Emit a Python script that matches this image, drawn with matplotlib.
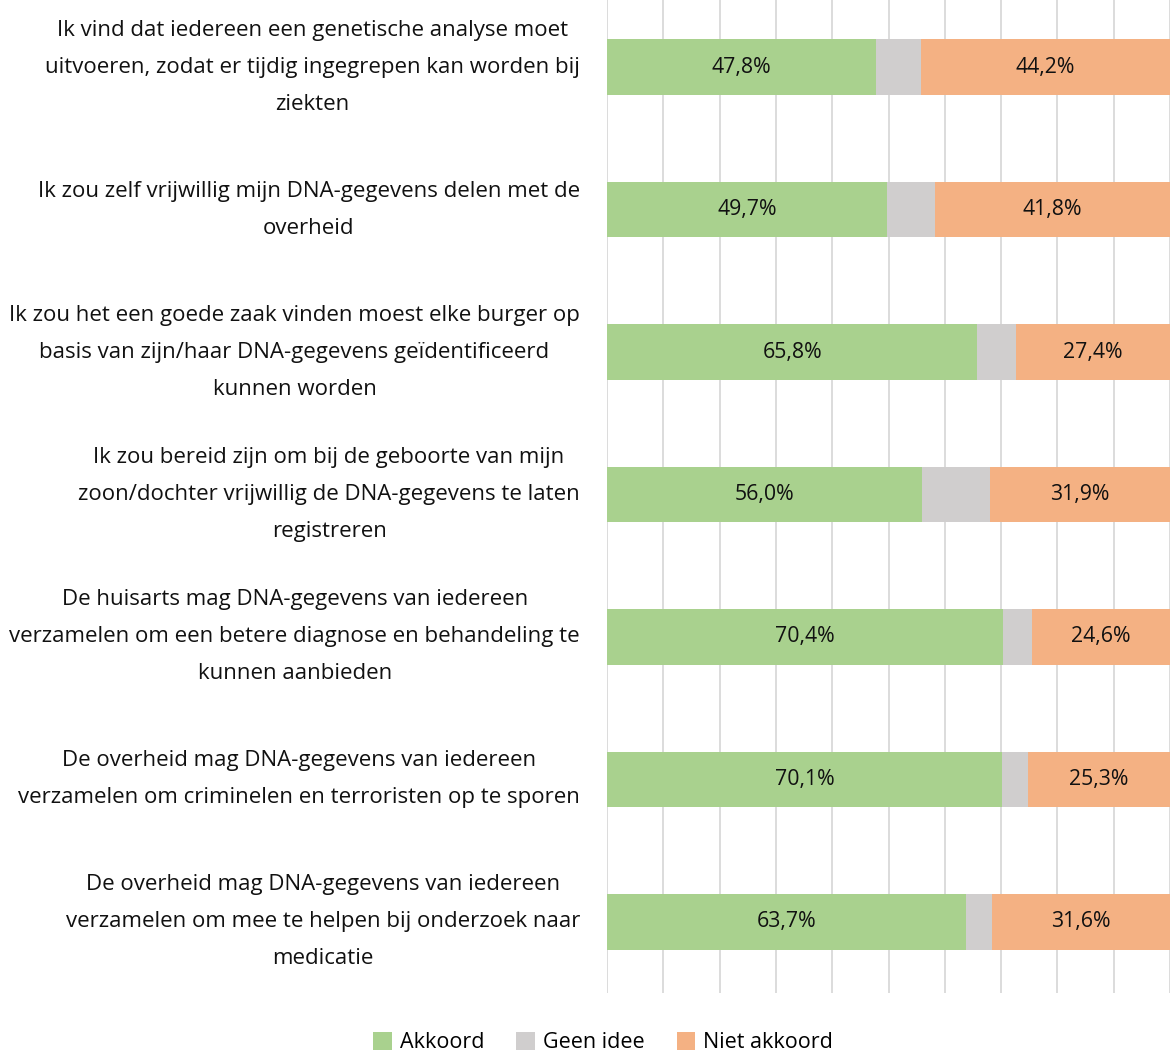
import matplotlib
matplotlib.use("Agg")
import matplotlib.pyplot as plt
import numpy as np

categories = [
    "Ik vind dat iedereen een genetische analyse moet\nuitvoeren, zodat er tijdig ingegrepen kan worden bij\nziekten",
    "Ik zou zelf vrijwillig mijn DNA-gegevens delen met de\noverheid",
    "Ik zou het een goede zaak vinden moest elke burger op\nbasis van zijn/haar DNA-gegevens geïdentificeerd\nkunnen worden",
    "Ik zou bereid zijn om bij de geboorte van mijn\nzoon/dochter vrijwillig de DNA-gegevens te laten\nregistreren",
    "De huisarts mag DNA-gegevens van iedereen\nverzamelen om een betere diagnose en behandeling te\nkunnen aanbieden",
    "De overheid mag DNA-gegevens van iedereen\nverzamelen om criminelen en terroristen op te sporen",
    "De overheid mag DNA-gegevens van iedereen\nverzamelen om mee te helpen bij onderzoek naar\nmedicatie",
]
akkoord = [47.8, 49.7, 65.8, 56.0, 70.4, 70.1, 63.7]
niet_akkoord = [44.2, 41.8, 27.4, 31.9, 24.6, 25.3, 31.6]
geen_idee = [round(100 - a - n, 1) for a, n in zip(akkoord, niet_akkoord)]
series_names = ["Akkoord", "Geen idee", "Niet akkoord"]
colors = ["#A9D18E", "#D0CECE", "#F4B183"]

plt.rcParams['font.family'] = ['Open Sans', 'DejaVu Sans']

W, H = 1170, 1057
fig = plt.figure(figsize=(W / 100, H / 100), dpi=100)
ax = fig.add_axes([607 / W, (H - 993) / H, 563 / W, 997 / H])

y = np.arange(len(categories))
a = np.array(akkoord)
g = np.array(geen_idee)
n = np.array(niet_akkoord)
bh = 0.39
b1 = ax.barh(y, a, height=bh, color=colors[0], label=series_names[0], zorder=3)
b2 = ax.barh(y, g, left=a, height=bh, color=colors[1], label=series_names[1], zorder=3)
b3 = ax.barh(y, n, left=a + g, height=bh, color=colors[2], label=series_names[2], zorder=3)

for i in range(len(y)):
    ax.text(a[i] / 2, y[i], f"{a[i]:.1f}%".replace(".", ","), ha="center", va="center",
            fontsize=15.3, color="#111111", zorder=4)
    ax.text(a[i] + g[i] + n[i] / 2, y[i], f"{n[i]:.1f}%".replace(".", ","), ha="center",
            va="center", fontsize=15.3, color="#111111", zorder=4)

ax.set_xlim(0, 100)
ax.set_ylim(len(categories) - 0.5, -0.5)
ax.set_xticks(np.arange(0, 101, 10))
ax.xaxis.grid(True, color="#D9D9D9", linewidth=1.3, zorder=0)
ax.tick_params(axis="both", length=0, labelbottom=False)
ax.set_yticks(y)
ax.set_yticklabels([])
for s in ax.spines.values():
    s.set_visible(False)

for i, c in enumerate(categories):
    ax.text(-4.8, y[i], c, ha="right", va="center", multialignment="center",
            fontsize=16, linespacing=2.0, color="#111111", transform=ax.transData)

handles = [b1, b2, b3]
fig.legend(handles, series_names, loc="lower center", bbox_to_anchor=(603 / W, -0.015),
           ncol=3, frameon=False, fontsize=15.5, handlelength=0.85, handleheight=0.85,
           columnspacing=1.5, handletextpad=0.37)

fig.savefig("out.png", dpi=100)
